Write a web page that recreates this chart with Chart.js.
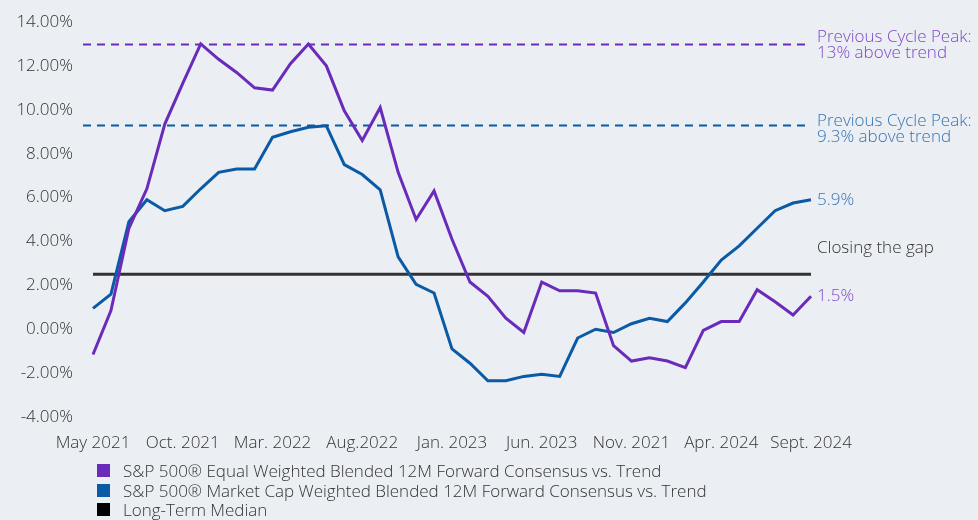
<!DOCTYPE html>
<html>
<head>
<meta charset="utf-8">
<script src="https://cdn.jsdelivr.net/npm/chart.js@4"></script>
<style>
    body { margin: 0; background: #ebeef2; font-family: "Open Sans", Lato, sans-serif; }
    #wrap { position: relative; width: 978px; height: 520px; }
    #legend { position: absolute; left: 97px; top: 461px; list-style: none; margin: 0; padding: 0; font-size: 17px; font-weight: 300; color: #333; }
    #legend li { display: flex; align-items: center; height: 19.5px; line-height: 19.5px; white-space: nowrap; }
    #legend .box { display: inline-block; width: 13px; height: 13px; margin-right: 13px; }
</style>
</head>
<body>
<div id="wrap">
    <canvas id="chart" width="978" height="520"></canvas>
    <ul id="legend"></ul>
</div>
<script>
// monthly observations, May 2021 .. Sept 2024
const months = [
    'May 2021', 'Jun 2021', 'Jul 2021', 'Aug 2021', 'Sep 2021', 'Oct 2021', 'Nov 2021', 'Dec 2021',
    'Jan 2022', 'Feb 2022', 'Mar 2022', 'Apr 2022', 'May 2022', 'Jun 2022', 'Jul 2022', 'Aug 2022',
    'Sep 2022', 'Oct 2022', 'Nov 2022', 'Dec 2022', 'Jan 2023', 'Feb 2023', 'Mar 2023', 'Apr 2023',
    'May 2023', 'Jun 2023', 'Jul 2023', 'Aug 2023', 'Sep 2023', 'Oct 2023', 'Nov 2023', 'Dec 2023',
    'Jan 2024', 'Feb 2024', 'Mar 2024', 'Apr 2024', 'May 2024', 'Jun 2024', 'Jul 2024', 'Aug 2024',
    'Sep 2024'
];
// every fifth month gets a label (text as printed on the original)
const tickLabels = ['May 2021', 'Oct. 2021', 'Mar. 2022', 'Aug.2022', 'Jan. 2023', 'Jun. 2023', 'Nov. 2021', 'Apr. 2024', 'Sept. 2024'];

const equalWeighted = [
    -1.15, 0.85, 4.6, 6.4, 9.35, 11.2, 13.0, 12.3, 11.7, 11.0, 10.9, 12.1, 13.0, 12.0, 9.95, 8.6,
    10.1, 7.15, 5.0, 6.3, 4.1, 2.15, 1.5, 0.5, -0.15, 2.15, 1.75, 1.75, 1.65, -0.75, -1.45, -1.3,
    -1.45, -1.75, -0.05, 0.35, 0.35, 1.8, 1.25, 0.65, 1.5
];
const marketCap = [
    0.95, 1.6, 4.9, 5.9, 5.4, 5.6, 6.4, 7.15, 7.3, 7.3, 8.75, 9.0, 9.2, 9.27, 7.5, 7.05,
    6.35, 3.3, 2.05, 1.65, -0.9, -1.55, -2.35, -2.35, -2.15, -2.05, -2.15, -0.4, 0.0, -0.15, 0.25, 0.5,
    0.35, 1.2, 2.15, 3.15, 3.8, 4.6, 5.4, 5.75, 5.9
];
const medianValue = 2.5;
const equalPeak = 13;
const capPeak = 9.3;

const PURPLE = '#6a2bbb';
const BLUE = '#0a5aa5';
const PURPLE_TEXT = '#8048cc';
const BLUE_TEXT = '#3574b8';
const FONT = '"Open Sans", Lato, sans-serif';

// dashed peak lines and the notes on the right
const notesPlugin = {
    id: 'notes',
    beforeDatasetsDraw(chart) {
        const { ctx, chartArea } = chart;
        const y = chart.scales.y;
        ctx.save();
        ctx.lineWidth = 2;
        ctx.setLineDash([8, 6]);
        [[equalPeak, PURPLE], [capPeak, BLUE]].forEach(([v, col]) => {
            const py = Math.round(y.getPixelForValue(v)) + 0.5;
            ctx.strokeStyle = col;
            ctx.beginPath();
            ctx.moveTo(chartArea.left - 10, py);
            ctx.lineTo(chartArea.right - 4, py);
            ctx.stroke();
        });
        ctx.restore();
    },
    afterDatasetsDraw(chart) {
        const { ctx, chartArea } = chart;
        const y = chart.scales.y;
        const x0 = chartArea.right + 6;
        ctx.save();
        ctx.font = '300 17px ' + FONT;
        ctx.textBaseline = 'middle';
        ctx.textAlign = 'left';

        ctx.fillStyle = PURPLE_TEXT;
        let py = y.getPixelForValue(equalPeak);
        ctx.fillText('Previous Cycle Peak:', x0, py - 7);
        ctx.fillText('13% above trend', x0, py + 9);

        ctx.fillStyle = BLUE_TEXT;
        py = y.getPixelForValue(capPeak);
        ctx.fillText('Previous Cycle Peak:', x0, py - 4);
        ctx.fillText('9.3% above trend', x0, py + 12);

        ctx.fillText(marketCap[marketCap.length - 1].toFixed(1) + '%', x0, y.getPixelForValue(marketCap[marketCap.length - 1]));

        ctx.fillStyle = '#333';
        ctx.fillText('Closing the gap', x0, y.getPixelForValue(medianValue) - 26);

        ctx.fillStyle = PURPLE_TEXT;
        ctx.fillText(equalWeighted[equalWeighted.length - 1].toFixed(1) + '%', x0, y.getPixelForValue(equalWeighted[equalWeighted.length - 1]));
        ctx.restore();
    }
};

const chart = new Chart(document.getElementById('chart'), {
    type: 'line',
    data: {
        labels: months,
        datasets: [
            {
                label: 'S&P 500® Equal Weighted Blended 12M Forward Consensus vs. Trend',
                data: equalWeighted,
                borderColor: PURPLE,
                backgroundColor: PURPLE,
                borderWidth: 3,
                pointRadius: 0,
                tension: 0
            },
            {
                label: 'S&P 500® Market Cap Weighted Blended 12M Forward Consensus vs. Trend',
                data: marketCap,
                borderColor: BLUE,
                backgroundColor: BLUE,
                borderWidth: 3,
                pointRadius: 0,
                tension: 0
            },
            {
                label: 'Long-Term Median',
                data: [{ x: months[0], y: medianValue }, { x: months[months.length - 1], y: medianValue }],
                borderColor: '#333',
                backgroundColor: '#000',
                borderWidth: 3,
                pointRadius: 0
            }
        ]
    },
    options: {
        responsive: false,
        animation: false,
        layout: { padding: { left: 0, right: 167, top: 22, bottom: 63 } },
        plugins: {
            legend: { display: false },
            tooltip: { enabled: false }
        },
        scales: {
            x: {
                grid: { display: false, drawTicks: false },
                border: { display: false },
                afterFit: (s) => { s.height = 40; },
                ticks: {
                    autoSkip: false,
                    maxRotation: 0,
                    padding: 16,
                    color: '#333',
                    font: { family: FONT, size: 17, weight: 300 },
                    callback: (v, i) => (i % 5 === 0 ? tickLabels[i / 5] : '')
                }
            },
            y: {
                min: -4,
                max: 14,
                grid: { display: false, drawTicks: false },
                border: { display: false },
                afterFit: (s) => { s.width = 93; s.paddingTop = 0; s.paddingBottom = 0; },
                ticks: {
                    stepSize: 2,
                    padding: 20,
                    color: '#333',
                    font: { family: FONT, size: 17, weight: 300 },
                    callback: (v) => v.toFixed(2) + '%'
                }
            }
        }
    },
    plugins: [notesPlugin]
});

// legend as a plain vertical list
const legend = document.getElementById('legend');
const boxColors = [PURPLE, BLUE, '#000'];
chart.data.datasets.forEach((ds, i) => {
    const li = document.createElement('li');
    li.innerHTML = `<span class="box" style="background:${boxColors[i]}"></span>${ds.label}`;
    legend.appendChild(li);
});
</script>
</body>
</html>
